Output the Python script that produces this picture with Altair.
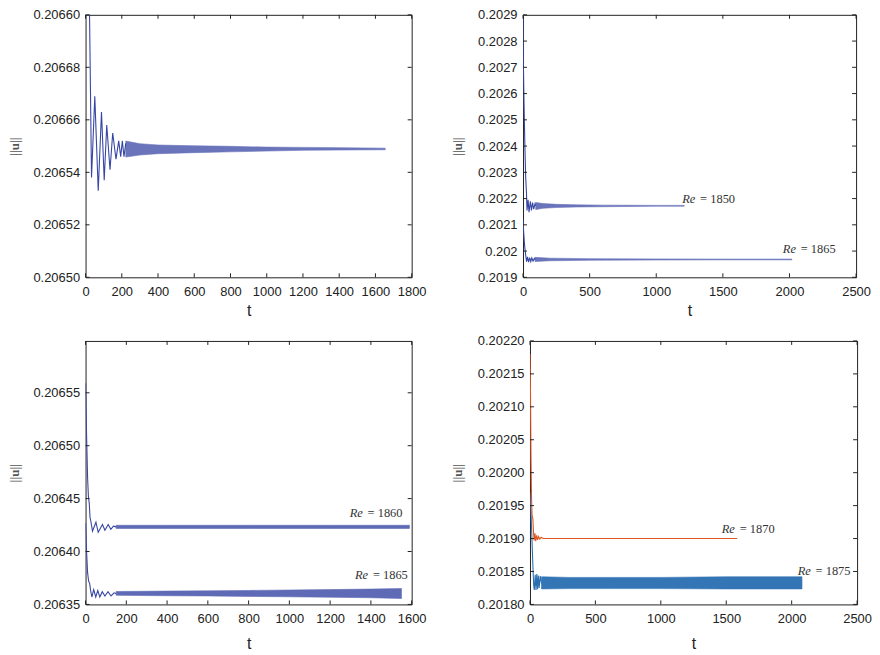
import altair as alt
import pandas as pd

# ---------------- data ----------------
# Panel 1 (top left): transient + settled oscillation band
p1_t = [18, 22, 33, 51, 70, 88, 103, 117, 135, 150, 168, 183, 194, 203, 212, 222]
p1_v = [0.20662, 0.20660, 0.206538, 0.206569, 0.206533, 0.206563, 0.206537, 0.206558,
        0.206541, 0.206555, 0.206545, 0.206552, 0.206546, 0.206552, 0.206546, 0.206551]
p1_band_t = [222, 300, 400, 600, 800, 1000, 1200, 1400, 1654]
p1_band_hi = [0.2065519, 0.2065509, 0.2065504, 0.2065501, 0.2065499, 0.2065496, 0.2065495, 0.2065494, 0.2065492]
p1_band_lo = [0.2065458, 0.2065466, 0.2065471, 0.2065475, 0.2065478, 0.2065481, 0.2065484, 0.2065485, 0.2065486]
p1_xticks = [0, 200, 400, 600, 800, 1000, 1200, 1400, 1600, 1800]
p1_yticks = [0.20650, 0.20652, 0.20654, 0.20656, 0.20658, 0.20660]

# Panel 2 (top right): Re = 1850 and Re = 1865
p2a_t = [0, 3, 8, 14, 20, 26, 30, 38, 45, 55, 63, 72, 80, 90, 95]
p2a_v = [0.20289, 0.20270, 0.20255, 0.20240, 0.20228, 0.20222, 0.202155, 0.202195, 0.202148,
         0.202190, 0.202155, 0.202185, 0.202160, 0.202180, 0.202172]
p2a_band_t = [95, 150, 250, 400, 600, 800, 1000, 1210]
p2a_band_hi = [0.202185, 0.202181, 0.202178, 0.202176, 0.202175, 0.2021745, 0.202174, 0.202174]
p2a_band_lo = [0.202158, 0.202163, 0.202166, 0.202168, 0.202169, 0.2021700, 0.202171, 0.202171]
p2b_t = [0, 5, 12, 20, 27, 34, 42, 50, 58, 66, 75, 85, 90]
p2b_v = [0.20212, 0.20207, 0.20202, 0.201985, 0.201960, 0.201978, 0.201958, 0.201975,
         0.201960, 0.201974, 0.201962, 0.201972, 0.201968]
p2b_band_t = [90, 200, 500, 1000, 1500, 2018]
p2b_band_hi = [0.201976, 0.201973, 0.201971, 0.201970, 0.2019695, 0.2019695]
p2b_band_lo = [0.201960, 0.201963, 0.201965, 0.201966, 0.2019665, 0.2019665]
p2_xticks = [0, 500, 1000, 1500, 2000, 2500]
p2_yticks = [0.2019, 0.2020, 0.2021, 0.2022, 0.2023, 0.2024, 0.2025, 0.2026, 0.2027, 0.2028, 0.2029]

# Panel 3 (bottom left): Re = 1860 and Re = 1865
p3a_t = [0, 5, 10, 14, 18, 22, 26, 34, 51, 62, 83, 95, 111, 124, 137, 150]
p3a_v = [0.206559, 0.20651, 0.20647, 0.206452, 0.206446, 0.206432, 0.2064286, 0.2064192,
         0.2064277, 0.2064182, 0.2064255, 0.2064201, 0.2064255, 0.206421, 0.2064239, 0.2064233]
p3a_band_t = [150, 400, 800, 1200, 1589]
p3a_band_hi = [0.2064248, 0.2064248, 0.2064248, 0.2064248, 0.2064248]
p3a_band_lo = [0.2064218, 0.2064218, 0.2064218, 0.2064218, 0.2064218]
p3b_t = [0, 5, 10, 15, 20, 25, 31, 40, 50, 60, 70, 82, 95, 110, 125, 140, 150]
p3b_v = [0.206427, 0.206400, 0.206380, 0.206372, 0.206370, 0.206363, 0.206357, 0.206364,
         0.206357, 0.206363, 0.206357, 0.206362, 0.206358, 0.206362, 0.206358, 0.206361, 0.2063604]
p3b_band_t = [150, 400, 600, 800, 1000, 1200, 1400, 1550]
p3b_band_hi = [0.2063622, 0.2063626, 0.2063628, 0.2063632, 0.2063636, 0.2063640, 0.2063645, 0.2063650]
p3b_band_lo = [0.2063586, 0.2063582, 0.2063580, 0.2063576, 0.2063572, 0.2063568, 0.2063563, 0.2063556]
p3_xticks = [0, 200, 400, 600, 800, 1000, 1200, 1400, 1600]
p3_yticks = [0.20635, 0.20640, 0.20645, 0.20650, 0.20655]

# Panel 4 (bottom right): Re = 1870 (orange) and Re = 1875 (blue)
p4a_t = [0, 4, 8, 12, 16, 22, 27, 32, 38, 44, 51, 58, 66, 75, 85, 100, 1584]
p4a_v = [0.20218, 0.20212, 0.20202, 0.20196, 0.201935, 0.20193, 0.20191, 0.201897, 0.201908,
         0.201896, 0.201905, 0.201898, 0.201903, 0.201899, 0.201902, 0.201900, 0.201900]
p4b_t = [0, 8, 15, 22, 28, 33, 40, 46, 52, 58, 64, 70, 78, 88]
p4b_v = [0.20197, 0.20194, 0.20190, 0.20186, 0.20183, 0.201822, 0.201845, 0.201822, 0.201846,
         0.201823, 0.201844, 0.201825, 0.201843, 0.201832]
p4b_band_t = [88, 300, 600, 1000, 1500, 2079]
p4b_band_hi = [0.201842, 0.201841, 0.201841, 0.201841, 0.201842, 0.201842]
p4b_band_lo = [0.2018235, 0.201824, 0.201824, 0.201824, 0.2018235, 0.2018235]
p4_xticks = [0, 500, 1000, 1500, 2000, 2500]
p4_yticks = [0.20180, 0.20185, 0.20190, 0.20195, 0.20200, 0.20205, 0.20210, 0.20215, 0.20220]

# Annotations: (t, v, text after the italic "Re")
p2_lab_t = [1195, 1950]
p2_lab_v = [0.2021826, 0.201992]
p2_lab_txt = ["= 1850", "= 1865"]
p3_lab_t = [1296, 1322]
p3_lab_v = [0.206433, 0.2063736]
p3_lab_txt = ["= 1860", "= 1865"]
p4_lab_t = [1466, 2046]
p4_lab_v = [0.201908, 0.2018453]
p4_lab_txt = ["= 1870", "= 1875"]

# ---------------- styling ----------------
BLUE = "#3746a4"
BLUE4 = "#2a6fb2"
ORANGE = "#e0561f"
INK = "#222222"


def panel(lines, bands, labels, xdom, xticks, ydom, yticks, yfmt, w, h,
          lab_expr=None, xlabpad=7, xtitlepad=6, ytitlepad=10):
    xs = alt.Scale(domain=xdom, nice=False, zero=False)
    ys = alt.Scale(domain=ydom, nice=False, zero=False)
    yaxis_kw = dict(values=yticks, title="||u||", ticks=False, domain=False, grid=False,
                    format=yfmt, labelPadding=6, titlePadding=ytitlepad,
                    labelOverlap=False, labelBound=False,
                    titleFont="Liberation Serif", titleFontSize=13, titleFontWeight="bold",
                    titleColor="#555555")
    if lab_expr:
        yaxis_kw["labelExpr"] = lab_expr
    xaxis_kw = dict(values=xticks, title="t", ticks=False, domain=False, grid=False,
                    format="d", labelPadding=xlabpad, titlePadding=xtitlepad,
                    labelOverlap=False, labelBound=False, labelFlush=False,
                    titleFontSize=16)

    def X(field="t"):
        return alt.X(f"{field}:Q", scale=xs, axis=alt.Axis(**xaxis_kw))

    def Y(field="v"):
        return alt.Y(f"{field}:Q", scale=ys, axis=alt.Axis(**yaxis_kw))

    layers = []
    for (tt, hi, lo, col, op) in bands:
        df = pd.DataFrame({"t": tt, "hi": hi, "lo": lo})
        layers.append(
            alt.Chart(df).mark_area(color=col, opacity=op, clip=True,
                                    stroke=col, strokeWidth=0.6).encode(
                x=X(), y=Y("hi"), y2="lo:Q",
            )
        )
    for (tt, vv, col) in lines:
        df = pd.DataFrame({"t": tt, "v": vv})
        layers.append(
            alt.Chart(df).mark_line(color=col, strokeWidth=1.1, clip=True).encode(
                x=X(), y=Y(),
            )
        )
    if labels:
        lt, lv, ltxt = labels
        df = pd.DataFrame({"t": lt, "v": lv, "re": ["Re"] * len(lt), "rest": ltxt})
        layers.append(
            alt.Chart(df).mark_text(align="left", baseline="alphabetic", font="Liberation Serif",
                                    fontStyle="italic", fontSize=12.5, color="#333333").encode(
                x=X(), y=Y(), text="re:N")
        )
        layers.append(
            alt.Chart(df).mark_text(align="left", baseline="alphabetic", font="Liberation Serif",
                                    fontSize=12.5, color="#333333", dx=18).encode(
                x=X(), y=Y(), text="rest:N")
        )
    # inward ticks on all four sides
    xt = pd.DataFrame({"t": xticks})
    yt = pd.DataFrame({"v": yticks})
    for (a, b) in [(0, 4), (h - 4, h)]:
        layers.append(alt.Chart(xt).mark_rule(color=INK, strokeWidth=1).encode(
            x=X(), y=alt.value(a), y2=alt.value(b)))
    for (a, b) in [(0, 4), (w - 4, w)]:
        layers.append(alt.Chart(yt).mark_rule(color=INK, strokeWidth=1).encode(
            y=Y(), x=alt.value(a), x2=alt.value(b)))
    return alt.layer(*layers).properties(width=w, height=h)


p1 = panel(
    lines=[(p1_t, p1_v, BLUE)],
    bands=[(p1_band_t, p1_band_hi, p1_band_lo, BLUE, 0.75)],
    labels=None,
    xdom=[0, 1800], xticks=p1_xticks, ydom=[0.20650, 0.20660], yticks=p1_yticks,
    yfmt=".5f", w=328, h=264,
    lab_expr="datum.label == '0.20656' ? '0.20666' : (datum.label == '0.20658' ? '0.20668' : datum.label)",
    xlabpad=8, xtitlepad=4, ytitlepad=11,
)

p2 = panel(
    lines=[(p2a_t, p2a_v, BLUE), (p2b_t, p2b_v, BLUE)],
    bands=[(p2a_band_t, p2a_band_hi, p2a_band_lo, BLUE, 0.75),
           (p2b_band_t, p2b_band_hi, p2b_band_lo, BLUE, 0.75)],
    labels=(p2_lab_t, p2_lab_v, p2_lab_txt),
    xdom=[0, 2500], xticks=p2_xticks, ydom=[0.2019, 0.2029], yticks=p2_yticks,
    yfmt=".4~f", w=335, h=264, xlabpad=8, xtitlepad=4, ytitlepad=13,
)

p3 = panel(
    lines=[(p3a_t, p3a_v, BLUE), (p3b_t, p3b_v, BLUE)],
    bands=[(p3a_band_t, p3a_band_hi, p3a_band_lo, BLUE, 0.8),
           (p3b_band_t, p3b_band_hi, p3b_band_lo, BLUE, 0.8)],
    labels=(p3_lab_t, p3_lab_v, p3_lab_txt),
    xdom=[0, 1600], xticks=p3_xticks, ydom=[0.20635, 0.206599], yticks=p3_yticks,
    yfmt=".5f", w=328, h=265, xlabpad=8, xtitlepad=10, ytitlepad=11,
)

p4 = panel(
    lines=[(p4b_t, p4b_v, BLUE4), (p4a_t, p4a_v, ORANGE)],
    bands=[(p4b_band_t, p4b_band_hi, p4b_band_lo, BLUE4, 0.95)],
    labels=(p4_lab_t, p4_lab_v, p4_lab_txt),
    xdom=[0, 2500], xticks=p4_xticks, ydom=[0.20180, 0.20220], yticks=p4_yticks,
    yfmt=".5f", w=329, h=265, xlabpad=8, xtitlepad=10, ytitlepad=13,
)

row1 = alt.hconcat(p1, p2, spacing=24)
row2 = alt.hconcat(p3, p4, spacing=24)
chart = alt.vconcat(row1, row2, spacing=15).properties(
    padding={"left": 0, "top": -2, "right": 0, "bottom": 0}
).configure_view(
    stroke=INK, strokeWidth=1
).configure_axis(
    labelFont="Liberation Sans", labelFontSize=13, labelColor=INK,
    titleFont="Liberation Sans", titleColor=INK, titleFontWeight="normal",
)

chart.save("out.html", embed_options={"renderer": "svg", "actions": False})
